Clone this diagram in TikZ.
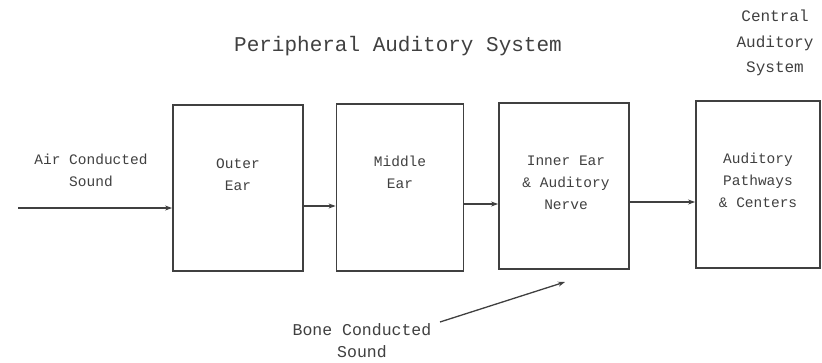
\documentclass[tikz,border=0pt]{standalone}
\usepackage{fontspec}
\setmainfont{Liberation Serif}
\newfontfamily\boxfont{Liberation Mono}
\usetikzlibrary{arrows.meta,calc}
\definecolor{ink}{gray}{0.25}
\begin{document}
\begin{tikzpicture}[x=1pt,y=-1pt,
  blk/.style={draw=ink,line width=1.8pt,minimum width=#1,inner sep=0pt},
  lbl/.style={text=ink,font=\boxfont\fontsize{14.5}{22}\selectfont,align=center},
  ttl/.style={text=ink,font=\boxfont\fontsize{21}{25}\selectfont,align=center},
  arr/.style={draw=ink,line width=1.3pt,-{Stealth[length=7pt,width=5pt]}}]
\useasboundingbox (0,0) rectangle (822,362);
\fill[white] (0,0) rectangle (822,362);
\node[blk=130pt,minimum height=166pt] (outer) at (238,188) {};
\node[blk=127pt,minimum height=167pt] (middle) at (400,187.5) {};
\node[blk=130pt,minimum height=166pt] (inner) at (564,186) {};
\node[blk=124pt,minimum height=167pt] (central) at (758,184.5) {};
\node[lbl] (outert) at (238,175) {Outer\\Ear};
\node[lbl] (middlet) at (400,172) {Middle\\Ear};
\node[lbl] (innert) at (566,183) {Inner Ear\\\& Auditory\\Nerve};
\node[lbl] (centralt) at (758,180) {Auditory\\Pathways\\\& Centers};
\node[lbl] (airt) at (91,170) {Air Conducted\\Sound};
\node[ttl] (pas) at (398,46) {Peripheral Auditory System};
\node[ttl,font=\boxfont\fontsize{16}{25.5}\selectfont] (cas) at (775,43) {Central\\Auditory\\System};
\node[ttl,font=\boxfont\fontsize{16.5}{22}\selectfont] (bone) at (362,341) {Bone Conducted\\Sound};
\coordinate (airstart) at (18,208);
\coordinate (bonestart) at (440,322);
\coordinate (boneend) at (565,282);
\draw[arr] (airstart) -- (airstart -| outer.west);
\draw[arr] ([yshift=-18pt]outer.east) -- ([yshift=-18pt]outer.east -| middle.west);
\draw[arr] ([yshift=-16.5pt]middle.east) -- ([yshift=-16.5pt]middle.east -| inner.west);
\draw[arr] ([yshift=-16pt]inner.east) -- ([yshift=-16pt]inner.east -| central.west);
\draw[arr] (bonestart) -- (boneend);
\end{tikzpicture}
\end{document}
